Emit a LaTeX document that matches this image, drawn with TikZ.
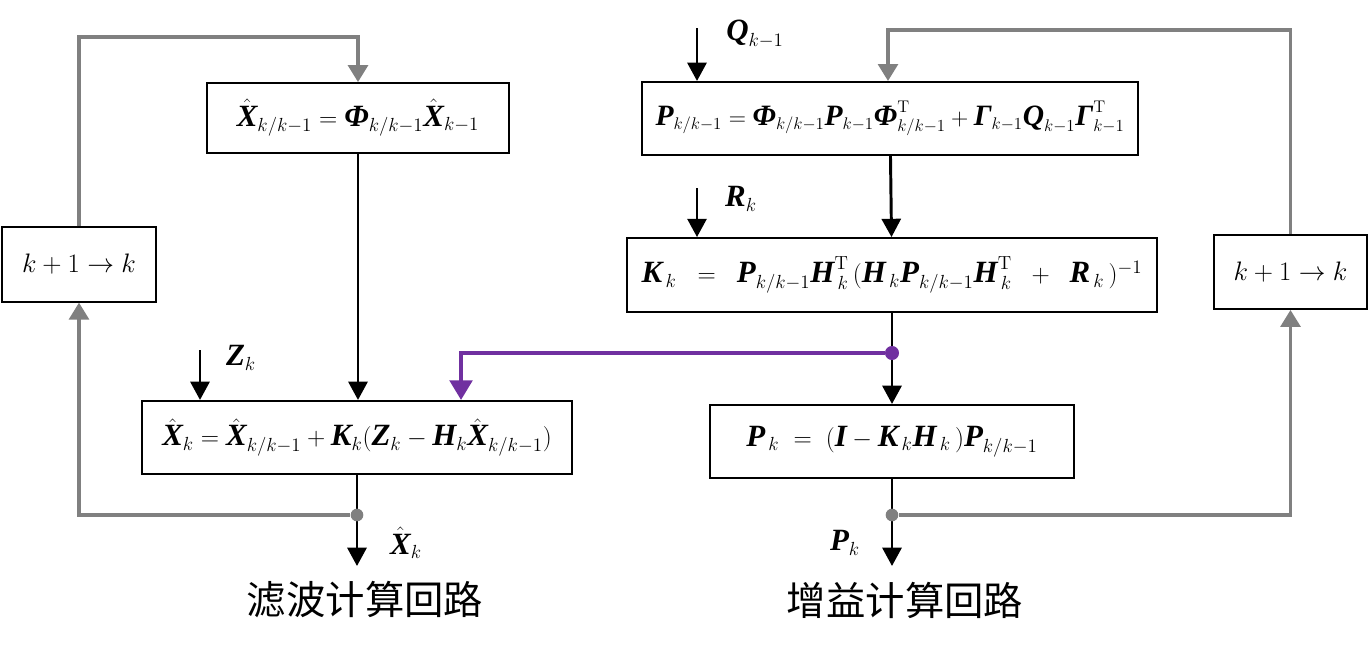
\RequirePackage{fix-cm}
\documentclass[tikz,border=0pt]{standalone}
\usepackage{amsmath,amssymb}
\usepackage{fontspec}
\newfontfamily\timesfont{Liberation Serif}
\newfontfamily\cjkfont{Noto Sans CJK SC}
\newcommand{\mb}[1]{\text{\timesfont\bfseries\itshape #1}}
\DeclareMathSizes{22}{18}{13.5}{10}
\DeclareMathSizes{21}{17}{12}{10}
\usetikzlibrary{arrows.meta, positioning}
\definecolor{loopgray}{RGB}{128,128,128}
\definecolor{gainpurple}{RGB}{112,48,160}

\begin{document}
\begin{tikzpicture}[
    x=0.025cm, y=-0.025cm,
    base/.style={draw, line width=1.3pt, inner sep=0pt, font=\fontsize{22}{26}\selectfont},
    eqbox/.style={base, minimum height=1.83cm},
    stepbox/.style={base, minimum width=3.84cm, minimum height=1.86cm, font=\fontsize{19}{23}\selectfont},
    arrow/.style={-{Triangle[length=13pt, width=13.5pt]}, line width=2.1pt},
    fback/.style={-{Triangle[length=12pt, width=14pt]}, line width=2.5pt, draw=loopgray},
    gainline/.style={-{Triangle[length=14pt, width=16pt]}, line width=2.8pt, draw=gainpurple},
    gdot/.style={circle, fill=loopgray, inner sep=0pt, minimum size=9pt},
    pdot/.style={circle, fill=gainpurple, inner sep=0pt, minimum size=10pt},
    sym/.style={font=\fontsize{22}{26}\selectfont},
    looptitle/.style={font=\fontsize{28}{32}\selectfont\cjkfont}
]
    \useasboundingbox (0,0) rectangle (1369,654);

    % Nodes
    \node[eqbox, minimum width=7.53cm, minimum height=1.75cm] (xpred) at (358,118) {$\hat{\mb{X}}_{k/k-1} = \mb{Φ}_{k/k-1}\hat{\mb{X}}_{k-1}$};
    \node[eqbox, minimum width=12.4cm, font=\fontsize{21}{25}\selectfont] (ppred) at (890,118.5) {$\mb{P}_{k/k-1} = \mb{Φ}_{k/k-1}\mb{P}_{k-1}\mb{Φ}^{\mathrm{T}}_{k/k-1} + \mb{Γ}_{k-1}\mb{Q}_{k-1}\mb{Γ}^{\mathrm{T}}_{k-1}$};
    \node[eqbox, minimum width=13.25cm, minimum height=1.85cm] (kgain) at (892,275) {$\mb{K}_{\,k} \;\;=\;\; \mb{P}_{k/k-1}\mb{H}^{\mathrm{T}}_{\,k}\,(\mb{H}_{\,k}\mb{P}_{k/k-1}\mb{H}^{\mathrm{T}}_{\,k} \;\;+\;\; \mb{R}_{\,k}\,)^{-1}$};
    \node[eqbox, minimum width=10.73cm] (xupd) at (357,437.5) {$\hat{\mb{X}}_k = \hat{\mb{X}}_{k/k-1} + \mb{K}_k(\mb{Z}_k - \mb{H}_k\hat{\mb{X}}_{k/k-1})$};
    \node[eqbox, minimum width=9.08cm] (pupd) at (892,441.5) {$\mb{P}_{\,k} \;=\; (\mb{I} - \mb{K}_{\,k}\mb{H}_{\,k}\,)\mb{P}_{k/k-1}$};
    \node[stepbox] (stepl) at (79,264.5) {$k+1\to k$};
    \node[stepbox, minimum height=1.85cm] (stepr) at (1290.5,272) {$k+1\to k$};

    % Filter loop
    \coordinate (zin) at (200,350);
    \coordinate (xout) at (357,566);
    \coordinate (topl) at (358,37);
    \draw[arrow] (xpred.south) -- (xpred.south |- xupd.north);
    \draw[arrow] (zin) -- (zin |- xupd.north);
    \node[sym] (zlab) at (241,358) {$\mb{Z}_k$};
    \draw[arrow] (xupd.south) -- (xout);
    \node[gdot] (dotl) at (357,515) {};
    \node[sym] (xlab) at (406,543) {$\hat{\mb{X}}_k$};
    \draw[fback] (dotl) -| (stepl);
    \draw[fback] (stepl) |- (topl) -- (xpred);

    % Gain loop
    \coordinate (qin) at (697,28);
    \coordinate (rin) at (697,188);
    \coordinate (pout) at (892,566);
    \coordinate (topr) at (888,30);
    \draw[arrow] (qin) -- (qin |- ppred.north);
    \node[sym] (qlab) at (755,34) {$\mb{Q}_{k-1}$};
    \draw[arrow] (ppred) -- (kgain);
    \draw[arrow] (rin) -- (rin |- kgain.north);
    \node[sym] (rlab) at (741,199) {$\mb{R}_k$};
    \draw[arrow] (kgain) -- (pupd);
    \node[pdot] (dotk) at (892,353) {};
    \draw[gainline] (dotk) -| ([xshift=2.6cm]xupd.north);
    \draw[arrow] (pupd) -- (pout);
    \node[gdot] (dotr) at (892,515) {};
    \node[sym] (plab) at (845,543) {$\mb{P}_k$};
    \draw[fback] (dotr) -| (stepr);
    \draw[fback] (stepr) |- (topr) -- (topr |- ppred.north);

    % Titles
    \node[looptitle] (capl) at (365,600) {滤波计算回路};
    \node[looptitle] (capr) at (905,600) {增益计算回路};
\end{tikzpicture}
\end{document}
